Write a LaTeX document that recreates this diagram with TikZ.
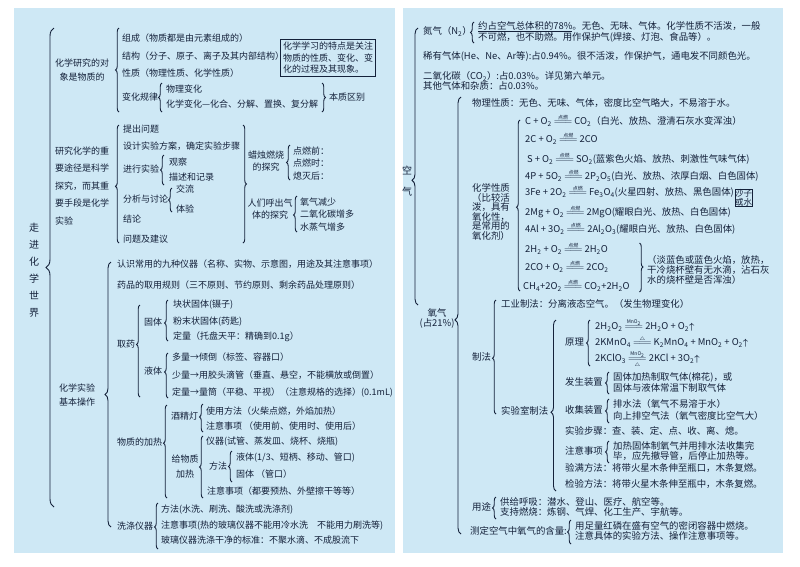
\documentclass[tikz,border=0pt]{standalone}
\usepackage{amsmath}
\usepackage{fontspec}
\setmainfont{Noto Sans CJK SC}
\usepackage{tikz}
\usetikzlibrary{positioning, decorations.pathreplacing}
\usepackage{xcolor}
\definecolor{pagebg}{HTML}{CEE8F5}
\definecolor{ink}{HTML}{14213A}
\newcommand{\ssub}[1]{\textsubscript{#1}}
\newcommand{\eqlab}[1]{\raisebox{-1.6pt}{\fontsize{5}{5}\selectfont #1}}
\newcommand{\ignite}{\ensuremath{\mathrel{\overset{\text{\eqlab{点燃}}}{=\!=\!=}}}}
\newcommand{\catmn}{\ensuremath{\mathrel{\overset{\text{\eqlab{MnO\ssub{2}}}}{=\!=\!=}}}}
\newcommand{\heatup}{\ensuremath{\mathrel{\overset{\scriptscriptstyle\triangle}{=\!=\!=}}}}
\newcommand{\catheat}{\ensuremath{\mathrel{\underset{\scriptscriptstyle\triangle}{\overset{\text{\eqlab{MnO\ssub{2}}}}{=\!=\!=}}}}}
\newcommand{\gasup}{\ensuremath{\boldsymbol{\uparrow}}}

\begin{document}
\begin{tikzpicture}[x=1pt, y=1pt,
  txt/.style={anchor=west, inner sep=0pt, text=ink, text height=6.5pt, text depth=1.5pt, font=\fontsize{9}{10}\selectfont},
  rtxt/.style={txt, font=\fontsize{9.4}{10}\selectfont},
  blk/.style={inner sep=0pt, text=ink, font=\fontsize{9}{#1}\selectfont},
  blk/.default=11,
  rblk/.style={inner sep=0pt, text=ink, font=\fontsize{9.4}{#1}\selectfont},
  rblk/.default=10,
  brc/.style={decorate, decoration={brace, amplitude=#1}, draw=ink, line width=0.9pt},
  brc/.default=3.5pt,
  notebox/.style={draw=ink, line width=1.2pt, inner sep=2.5pt, align=left, text=ink}]
% Pages
\useasboundingbox (0,0) rectangle (800,-566);
\fill[white] (0,0) rectangle (800,-566);
\fill[pagebg] (14,-8) rectangle (395,-553);
\fill[pagebg] (403,-8) rectangle (783,-553);

% Title of left page
\node[blk=17, font=\fontsize{10}{17}\selectfont, align=center] (title) at (34,-270) {走\\进\\化\\学\\世\\界};
\draw[brc=8pt] (54,-507) -- (54,-28);

% Object of chemistry
\node[blk=14, align=center] (obj) at (82,-70) {化学研究的对\\象是物质的};
\draw[brc] (119,-112) -- (119,-28);
\node[txt] (comp) at (122,-39) {组成（物质都是由元素组成的）};
\node[txt] (struc) at (122,-57) {结构（分子、原子、离子及其内部结构）};
\node[txt] (prop) at (122,-74) {性质（物理性质、化学性质）};
\node[txt] (law) at (122,-98) {变化规律};
\draw[brc] (162,-112) -- (162,-83);
\node[txt] (phys) at (166,-90) {物理变化};
\node[txt] (chem) at (166,-105) {化学变化—化合、分解、置换、复分解};
\draw[brc] (322,-83) -- (322,-112);
\node[txt] (essence) at (329,-98) {本质区别};
\node[notebox, font=\fontsize{9}{11.5}\selectfont] (feat) at (328,-58) {化学学习的特点是关注\\物质的性质、变化、变\\化的过程及其现象。};

% Scientific inquiry
\node[blk=17.5, align=left, anchor=west] (sci) at (55,-186) {研究化学的重\\要途径是科学\\探究，而其重\\要手段是化学\\实验};
\draw[brc, decoration={aspect=0.48}] (119,-243) -- (119,-125);
\node[txt] (ask) at (123,-130) {提出问题};
\node[txt] (design) at (123,-147) {设计实验方案，确定实验步骤};
\node[txt] (run) at (123,-170) {进行实验};
\draw[brc] (164,-185) -- (164,-155);
\node[txt] (obs) at (169,-163) {观察};
\node[txt] (rec) at (169,-178) {描述和记录};
\node[txt] (ana) at (123,-200) {分析与讨论};
\draw[brc] (172,-212) -- (172,-188);
\node[txt] (talk) at (176,-190) {交流};
\node[txt] (feel) at (176,-210) {体验};
\node[txt] (concl) at (123,-220) {结论};
\node[txt] (sugg) at (123,-240) {问题及建议};
\draw[brc] (243,-125) -- (243,-243);
\node[blk=12.5, align=center] (candle) at (266,-161) {蜡烛燃烧\\的探究};
\draw[brc] (290,-180) -- (290,-145);
\node[txt] (before) at (293,-152) {点燃前：};
\node[txt] (during) at (293,-164) {点燃时：};
\node[txt] (after) at (293,-177) {熄灭后：};
\node[blk=12, align=center] (breath) at (270,-209) {人们呼出气\\体的探究};
\draw[brc, decoration={aspect=0.47}] (297,-232) -- (297,-196);
\node[txt] (oxless) at (300,-203) {氧气减少};
\node[txt] (comore) at (300,-215) {二氧化碳增多};
\node[txt] (h2omore) at (300,-228) {水蒸气增多};

% Basic operations
\node[blk=14, align=center] (basic) at (77,-395) {化学实验\\基本操作};
\draw[brc=6pt] (111,-527) -- (111,-262);
\node[txt] (instr) at (117,-265) {认识常用的九种仪器（名称、实物、示意图，用途及其注意事项）};
\node[txt] (rules) at (117,-286) {药品的取用规则（三不原则、节约原则、剩余药品处理原则）};
\node[txt] (take) at (117,-345) {取药};
\draw[brc, decoration={aspect=0.57}] (140,-397) -- (140,-305);
\node[txt] (solid) at (144,-323) {固体};
\draw[brc, decoration={aspect=0.44}] (168,-341) -- (168,-300);
\node[txt] (lump) at (173,-305) {块状固体(镊子)};
\node[txt] (powder) at (173,-322) {粉末状固体(药匙)};
\node[txt] (weigh) at (173,-337) {定量（托盘天平：精确到0.1g）};
\node[txt] (liquid) at (144,-372) {液体};
\draw[brc, decoration={aspect=0.58}] (168,-398) -- (168,-353);
\node[txt] (much) at (172,-358) {多量→倾倒（标签、容器口）};
\node[txt] (little) at (172,-376) {少量→用胶头滴管（垂直、悬空，不能横放或倒置）};
\node[txt] (cyl) at (172,-393) {定量→量筒（平稳、平视）（注意规格的选择）(0.1mL)};
\node[txt] (heat) at (117,-443) {物质的加热};
\draw[brc, decoration={aspect=0.59}] (167,-498) -- (167,-405);
\node[txt] (lamp) at (171,-417) {酒精灯};
\draw[brc, decoration={aspect=0.54}] (203,-432) -- (203,-404);
\node[txt] (lampuse) at (206,-412) {使用方法（火柴点燃，外焰加热）};
\node[txt] (lcare1) at (206,-427) {注意事项 （使用前、使用时、使用后）};
\node[blk=15, align=center] (heatobj) at (185,-467) {给物质\\加热};
\draw[brc] (203,-498) -- (203,-436);
\node[txt] (vessel) at (206,-442) {仪器(试管、蒸发皿、烧杯、烧瓶)};
\node[txt] (way) at (209,-467) {方法};
\draw[brc] (232,-482) -- (232,-451);
\node[txt] (wliq) at (236,-458) {液体(1/3、短柄、移动、管口)};
\node[txt] (wsol) at (236,-475) {固体 （管口）};
\node[txt] (lcare2) at (207,-492) {注意事项（都要预热、外壁擦干等等）};
\node[txt] (wash) at (117,-527) {洗涤仪器};
\draw[brc, decoration={aspect=0.48}] (158,-549) -- (158,-503);
\node[txt] (wmeth) at (161,-510) {方法(水洗、刷洗、酸洗或洗涤剂)};
\node[txt] (wcare) at (161,-526) {注意事项(热的玻璃仪器不能用冷水洗\quad 不能用力刷洗等)};
\node[txt] (wstd) at (161,-541) {玻璃仪器洗涤干净的标准：不聚水滴、不成股流下};

% Air
\node[rblk=21, font=\fontsize{10}{21}\selectfont, align=center] (air) at (407,-181) {空\\气};
\draw[brc=6pt, decoration={aspect=0.45}] (418,-305) -- (418,-28);
\node[rtxt] (nitro) at (423,-32) {氮气（N\ssub{2}）};
\draw[brc] (474,-43) -- (474,-22);
\node[rtxt] (n1) at (478,-27) {\underline{约占空气总体积的78\%}。无色、无味、气体。化学性质不活泼，一般};
\node[rtxt] (n2) at (478,-38) {不可燃，也不助燃。用作保护气(焊接、灯泡、食品等）。};
\node[rtxt] (rare) at (423,-57) {稀有气体(He、Ne、Ar等):占0.94\%。很不活泼，作保护气，通电发不同颜色光。};
\node[rtxt] (co2) at (423,-77) {二氧化碳（CO\ssub{2}）:占0.03\%。详见第六单元。};
\node[rtxt] (other) at (423,-87) {其他气体和杂质：占0.03\%。};

% Oxygen
\node[rblk=10, align=center] (oxy) at (437,-318) {氧气\\(占21\%)};
\draw[brc=6pt, decoration={aspect=0.49}] (461,-534) -- (461,-97);
\node[rtxt] (phy) at (472,-104) {物理性质：无色、无味、气体，密度比空气略大，不易溶于水。};
\node[rblk=9.5, align=left, anchor=west] (cprop) at (472,-212) {化学性质\\（比较活\\泼，具有\\氧化性，\\是常用的\\氧化剂）};
\draw[brc, decoration={aspect=0.49}] (520,-291) -- (520,-120);
\node[rtxt] (e1) at (525,-122) {C + O\ssub{2} \ignite{} CO\ssub{2}（白光、放热、澄清石灰水变浑浊）};
\node[rtxt] (e2) at (525,-140) {2C + O\ssub{2} \ignite{} 2CO};
\node[rtxt] (e3) at (527,-160) {S + O\ssub{2} \ignite{} SO\ssub{2}(蓝紫色火焰、放热、刺激性气味气体)};
\node[rtxt] (e4) at (525,-177) {4P + 5O\ssub{2} \ignite{} 2P\ssub{2}O\ssub{5}(白光、放热、浓厚白烟、白色固体)};
\node[rtxt] (e5) at (525,-193) {3Fe + 2O\ssub{2} \ignite{} Fe\ssub{3}O\ssub{4}(火星四射、放热、黑色固体)};
\node[draw=ink, line width=0.9pt, inner xsep=3pt, inner ysep=1.2pt, rblk=8.5, font=\fontsize{8.5}{8.5}\selectfont, align=center, right=0.5pt of e5, yshift=-5pt] (sand) {沙子\\或水};
\node[rtxt] (e6) at (525,-213) {2Mg + O\ssub{2} \ignite{} 2MgO(耀眼白光、放热、白色固体)};
\node[rtxt] (e7) at (525,-230) {4Al + 3O\ssub{2} \ignite{} 2Al\ssub{2}O\ssub{3}(耀眼白光、放热、白色固体)};
\node[rtxt] (e8) at (525,-250) {2H\ssub{2} + O\ssub{2} \ignite{} 2H\ssub{2}O};
\node[rtxt] (e9) at (525,-268) {2CO + O\ssub{2} \ignite{} 2CO\ssub{2}};
\node[rtxt] (e10) at (523,-287) {CH\ssub{4}+2O\ssub{2} \ignite{} CO\ssub{2}+2H\ssub{2}O};
\draw[brc, decoration={aspect=0.49}] (639.5,-243) -- (639.5,-292);
\node[rblk=8.6, align=left, anchor=west] (flame) at (647,-270) {（淡蓝色或蓝色火焰，放热，\\干冷烧杯壁有无水滴，沾石灰\\水的烧杯壁是否浑浊）};

% Preparation
\node[rtxt] (prep) at (472,-358) {制法};
\draw[brc, decoration={aspect=0.49}] (496,-414) -- (496,-300);
\node[rtxt] (ind) at (501,-305) {工业制法：分离液态空气。（发生物理变化）};
\node[rtxt] (lab) at (501,-412) {实验室制法};
\draw[brc=5pt, decoration={aspect=0.46}] (556,-491) -- (556,-320);
\node[rtxt] (prin) at (565,-343) {原理};
\draw[brc] (590,-366) -- (590,-320);
\node[rtxt] (r1) at (595,-327) {2H\ssub{2}O\ssub{2} \catmn{} 2H\ssub{2}O + O\ssub{2}\gasup};
\node[rtxt] (r2) at (595,-343) {2KMnO\ssub{4} \heatup{} K\ssub{2}MnO\ssub{4} + MnO\ssub{2} + O\ssub{2}\gasup};
\node[rtxt] (r3) at (595,-359) {2KClO\ssub{3} \catheat{} 2KCl + 3O\ssub{2}\gasup};
\node[rtxt] (gen) at (565,-383) {发生装置};
\draw[brc] (609,-394) -- (609,-372);
\node[rtxt] (g1) at (613,-378) {固体加热制取气体(棉花)，或};
\node[rtxt] (g2) at (613,-389) {固体与液体常温下制取气体};
\node[rtxt] (coll) at (565,-411) {收集装置};
\draw[brc] (609,-423) -- (609,-399);
\node[rtxt] (c1) at (613,-405) {排水法（氧气不易溶于水）};
\node[rtxt] (c2) at (613,-417) {向上排空气法（氧气密度比空气大）};
\node[rtxt] (steps) at (565,-432) {实验步骤：查、装、定、点、收、离、熄。};
\node[rtxt] (ocare) at (565,-452) {注意事项};
\draw[brc] (609,-463) -- (609,-441);
\node[rtxt] (nt1) at (613,-447) {加热固体制氧气并用排水法收集完};
\node[rtxt] (nt2) at (613,-457) {毕，应先撤导管，后停止加热等。};
\node[rtxt] (full) at (565,-469) {验满方法：将带火星木条伸至瓶口，木条复燃。};
\node[rtxt] (test) at (565,-485) {检验方法：将带火星木条伸至瓶中，木条复燃。};

% Uses and measurement
\node[rtxt] (uses) at (472,-508) {用途};
\draw[brc] (496,-519) -- (496,-497);
\node[rtxt] (u1) at (500,-503) {供给呼吸：潜水、登山、医疗、航空等。};
\node[rtxt] (u2) at (500,-513) {支持燃烧：炼钢、气焊、化工生产、宇航等。};
\node[rtxt] (meas) at (470,-532) {测定空气中氧气的含量:};
\draw[brc] (571,-544) -- (571,-520);
\node[rtxt] (m1) at (575,-527) {用足量红磷在盛有空气的密闭容器中燃烧。};
\node[rtxt] (m2) at (575,-537) {注意具体的实验方法、操作注意事项等。};
\end{tikzpicture}
\end{document}
